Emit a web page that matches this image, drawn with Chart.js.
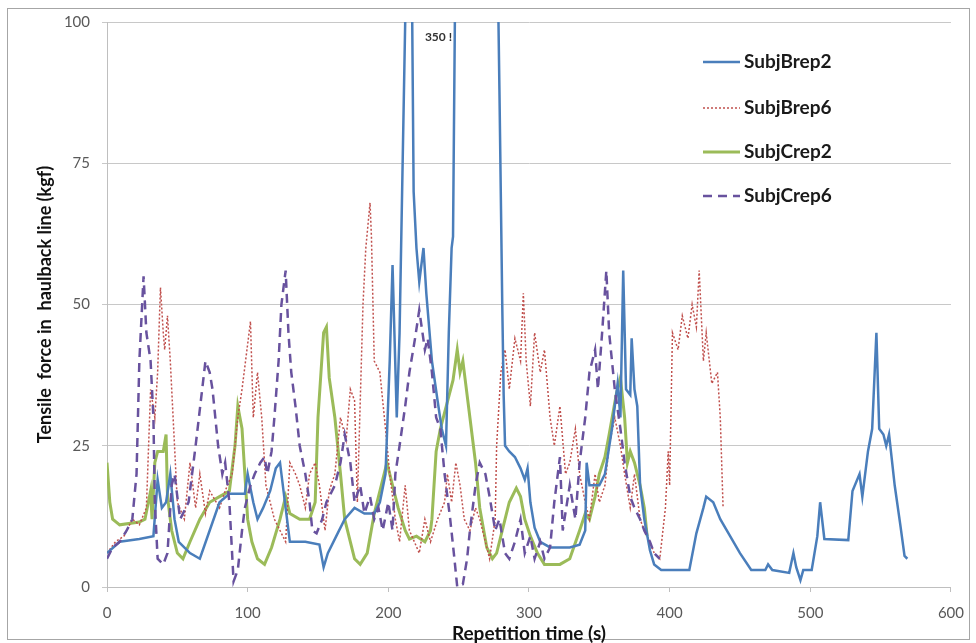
<!DOCTYPE html>
<html>
<head>
<meta charset="utf-8">
<title>Tensile force in haulback line</title>
<script src="https://cdn.jsdelivr.net/npm/chart.js@4.4.1/dist/chart.umd.min.js"></script>
<style>
    html, body { margin: 0; padding: 0; background: #fff; }
    .chart-box { position: relative; width: 976px; height: 643px; }
</style>
</head>
<body>
<div class="chart-box"><canvas id="forceChart"></canvas></div>
<script>
// series names and axis ticks
const seriesNames = ['SubjBrep2', 'SubjBrep6', 'SubjCrep2', 'SubjCrep6'];
const xTicks = [0, 100, 200, 300, 400, 500, 600];
const yTicks = [0, 25, 50, 75, 100];

// SubjBrep2 (time s, force kgf) - the spike at ~264 s reaches 350
const brep2Time = [0, 9, 23, 33, 36, 39, 42, 45, 48, 51, 59, 66, 73, 80, 87, 98, 100, 104, 107, 111, 116, 120, 123, 127, 130, 141, 151, 154, 157, 163, 169, 176, 183, 190, 194, 198, 201, 203, 206, 208, 212, 214, 217, 218, 220, 222, 225, 227, 231, 235, 238, 241, 243, 245, 246, 248, 264, 279, 281, 282, 283, 286, 290, 294, 297, 299, 301, 304, 308, 315, 329, 336, 340, 341, 343, 347, 350, 354, 359, 363, 365, 367, 369, 372, 373, 375, 377, 379, 382, 386, 389, 394, 414, 419, 424, 426, 431, 436, 443, 450, 458, 468, 470, 473, 485, 488, 490, 493, 495, 501, 505, 507, 510, 527, 530, 535, 537, 541, 544, 547, 549, 552, 554, 556, 560, 564, 567, 569];
const brep2Force = [6, 8, 8.5, 9, 19, 14, 15, 20, 12, 8, 6, 5, 10, 15, 16.5, 16.5, 20, 15, 12, 14, 17, 21, 22, 14, 8, 8, 7.5, 3.5, 6, 9, 12, 14, 13, 13, 15, 20, 40, 57, 30, 45, 100, 140, 100, 70, 60, 54, 60, 52, 40, 33, 28, 25, 45, 60, 62, 120, 350, 88, 50, 34, 25, 24, 23, 21, 19, 21, 15, 10.5, 8, 7, 7, 7.5, 10, 22, 18, 18, 18, 20, 28, 36, 30, 56, 35, 34, 44, 35, 32, 18, 12, 6.5, 4, 3, 3, 9.5, 14, 16, 15, 12, 9, 6, 3, 3, 4, 3, 2.5, 6, 3.5, 1.2, 3, 3, 9, 15, 8.5, 8.3, 17, 20, 16, 24, 28, 45, 28, 27, 25, 27, 18, 11, 5.5, 5];

// SubjBrep6
const brep6Time = [0, 6, 12, 18, 23, 28, 31, 34, 36, 38, 40, 41, 43, 45, 48, 50, 55, 59, 63, 66, 70, 73, 80, 84, 89, 93, 96, 100, 102, 104, 107, 110, 113, 116, 119, 123, 127, 130, 134, 137, 141, 144, 148, 151, 155, 158, 162, 166, 170, 173, 176, 178, 182, 184, 187, 188, 190, 194, 198, 201, 205, 208, 212, 215, 222, 226, 230, 235, 240, 242, 245, 248, 251, 254, 258, 262, 265, 269, 272, 276, 277, 280, 283, 286, 290, 294, 296, 298, 301, 304, 308, 311, 315, 318, 322, 326, 329, 333, 336, 340, 343, 347, 350, 354, 357, 361, 365, 368, 372, 375, 379, 382, 386, 389, 393, 397, 399, 400, 402, 406, 409, 413, 416, 419, 421, 424, 426, 430, 434, 436, 438];
const brep6Force = [6, 8, 9, 12, 11, 14, 35, 30, 38, 53, 45, 42, 48, 40, 25, 15, 12, 22, 14, 20, 13, 17, 14, 17, 20, 30, 35, 43, 47, 30, 38, 30, 18, 15, 12, 10, 8, 22, 20, 18, 14, 20, 22, 18, 10, 17, 20, 30, 26, 35, 33, 15, 50, 60, 68, 62, 40, 38, 28, 20, 12, 8, 18, 10, 6, 12, 8, 12, 15, 20, 15, 22, 18, 12, 10, 14, 12, 8, 5, 12, 25, 38, 42, 35, 44, 40, 52, 40, 32, 45, 38, 42, 30, 25, 32, 20, 22, 28, 20, 15, 12, 20, 15, 18, 25, 30, 25, 20, 14, 20, 12, 10, 8, 6, 5, 14, 24, 18, 45, 42, 48, 44, 50, 46, 56, 40, 45, 36, 38, 30, 14];

// SubjCrep2
const crep2Time = [0, 2, 4, 9, 23, 27, 31, 32, 34, 36, 40, 42, 43, 46, 50, 54, 59, 66, 73, 80, 87, 91, 93, 96, 98, 100, 103, 107, 112, 117, 123, 127, 130, 137, 144, 148, 150, 154, 156, 158, 162, 166, 169, 173, 176, 180, 185, 190, 195, 199, 203, 207, 212, 215, 220, 226, 230, 231, 234, 237, 246, 249, 251, 253, 255, 258, 262, 265, 270, 274, 277, 283, 286, 291, 294, 297, 301, 306, 311, 322, 329, 336, 340, 343, 347, 350, 354, 357, 362, 365, 368, 370, 372, 375, 379, 382, 384];
const crep2Force = [22, 15, 12, 11, 11.5, 12, 17, 12, 22, 24, 24, 27, 16, 10, 6, 5, 8, 12, 15, 16, 17, 25, 32, 28, 20, 12, 8, 5, 4, 7, 12, 16, 13, 12, 12, 15, 30, 45, 46, 37, 30, 20, 12, 8, 5, 4, 6, 13, 18, 22, 18, 14, 10, 8.5, 9, 8, 10, 12, 24, 28, 36.6, 42, 38, 40, 36, 30, 22, 14, 7, 5, 6, 12, 15, 17.5, 16, 12, 9, 6, 4, 4, 5, 10, 13, 12, 16, 20, 23, 27, 34, 37, 30, 22, 24, 22, 18, 14, 9];

// SubjCrep6
const crep6Time = [0, 4, 9, 14, 18, 21, 23, 26, 28, 31, 33, 34, 36, 40, 43, 46, 48, 52, 58, 63, 70, 73, 75, 79, 82, 84, 87, 90, 93, 96, 98, 102, 105, 109, 112, 114, 117, 119, 122, 124, 127, 129, 131, 134, 137, 141, 144, 146, 149, 153, 156, 162, 166, 169, 173, 176, 180, 183, 187, 190, 193, 196, 200, 203, 205, 208, 212, 215, 219, 222, 226, 228, 231, 234, 237, 240, 244, 247, 249, 253, 256, 258, 262, 265, 269, 272, 276, 279, 283, 286, 290, 294, 297, 301, 304, 308, 311, 315, 318, 322, 324, 329, 333, 336, 340, 343, 347, 349, 352, 355, 357, 361, 365, 368, 372, 375, 379, 382, 386, 389, 393];
const crep6Force = [5, 7, 8, 10, 12, 20, 40, 55, 45, 40, 30, 15, 5, 4, 6, 18, 20, 12, 15, 25, 40, 38, 35, 25, 20, 22, 15, 1, 3, 10, 14, 18, 20, 22, 23, 20, 24, 30, 40, 50, 56, 45, 38, 32, 25, 20, 15, 10, 9.5, 12, 15, 18, 22, 27, 22, 15, 18, 13, 16, 12, 14, 10, 15, 10, 20, 25, 32, 38, 44, 49, 42, 44, 38, 30, 28, 20, 12, 5, 0, 0.5, 5, 10, 18, 22, 20, 16, 10, 12, 6, 5, 8, 12, 6, 9, 5, 8, 5, 7, 15, 23, 10, 18, 12, 22, 30, 38, 42, 35, 45, 56, 45, 35, 28, 22, 16, 14, 12, 10, 8, 6, 5];

const seriesColors = ['rgb(74, 126, 187)', 'rgb(192, 80, 77)', 'rgb(155, 187, 89)', 'rgb(104, 82, 158)'];
const seriesDashes = [[], [2, 2], [], [9, 6]];
const seriesWidths = [2.5, 1.5, 3, 2.5];

function toPoints(times, values) {
    return times.map((t, i) => ({ x: t, y: values[i] }));
}

const seriesData = [
    toPoints(brep2Time, brep2Force),
    toPoints(brep6Time, brep6Force),
    toPoints(crep2Time, crep2Force),
    toPoints(crep6Time, crep6Force)
];

// draw order: Crep6 under the solid lines like the original
const drawOrder = [1, 2, 3, 0];

const frame = {
    id: 'frame',
    beforeDraw(chart) {
        const ctx = chart.ctx;
        ctx.save();
        ctx.fillStyle = '#fff';
        ctx.fillRect(0, 0, chart.width, chart.height);
        ctx.strokeStyle = '#a6a6a6';
        ctx.lineWidth = 1;
        ctx.strokeRect(7.5, 8.5, chart.width - 14, chart.height - 12);
        ctx.restore();
    }
};

const insideLegend = {
    id: 'insideLegend',
    afterDraw(chart) {
        const ctx = chart.ctx;
        const rows = [62, 108, 152, 196];
        ctx.save();
        chart.data.datasets.forEach((ds, i) => {
            const y = rows[i];
            ctx.beginPath();
            ctx.setLineDash(ds.borderDash);
            ctx.lineWidth = ds.borderWidth;
            ctx.strokeStyle = ds.borderColor;
            ctx.moveTo(703, y);
            ctx.lineTo(740, y);
            ctx.stroke();
            ctx.setLineDash([]);
            ctx.fillStyle = '#1a1a1a';
            ctx.font = 'bold 19px Lato';
            ctx.textBaseline = 'middle';
            ctx.textAlign = 'left';
            ctx.fillText(ds.label, 744, y);
        });
        // note for the clipped peak
        const xs = chart.scales.x, ys = chart.scales.y;
        ctx.fillStyle = '#333';
        ctx.font = 'bold 12px Lato';
        ctx.fillText('350 !', xs.getPixelForValue(226), ys.getPixelForValue(97.3));
        ctx.restore();
    }
};

new Chart(document.getElementById('forceChart'), {
    type: 'line',
    data: {
        datasets: seriesNames.map((name, i) => ({
            label: name,
            data: seriesData[i],
            borderColor: seriesColors[i],
            backgroundColor: seriesColors[i],
            borderDash: seriesDashes[i],
            borderWidth: seriesWidths[i],
            pointRadius: 0,
            tension: 0,
            order: drawOrder[i]
        }))
    },
    options: {
        responsive: true,
        maintainAspectRatio: false,
        animation: false,
        layout: { padding: { top: 22, right: 25, left: 0, bottom: 0 } },
        plugins: {
            legend: { display: false },
            tooltip: { enabled: false }
        },
        scales: {
            x: {
                type: 'linear',
                min: 0,
                max: 600,
                afterBuildTicks: s => { s.ticks = xTicks.map(v => ({ value: v })); },
                afterFit: s => { s.height = 56; },
                grid: { drawOnChartArea: false, tickLength: 5, color: '#bfbfbf' },
                border: { color: '#bfbfbf' },
                ticks: { padding: 12, color: '#595959', font: { family: 'Lato', size: 15 } },
                title: {
                    display: true,
                    text: 'Repetition time (s)',
                    color: '#111',
                    padding: { top: 0, bottom: -2 },
                    font: { family: 'Lato', size: 19, weight: 'bold' }
                }
            },
            y: {
                min: 0,
                max: 100,
                afterBuildTicks: s => { s.ticks = yTicks.map(v => ({ value: v })); },
                afterFit: s => { s.width = 107; },
                grid: { tickLength: 5, color: '#c8c8c8' },
                border: { color: '#bfbfbf' },
                ticks: { padding: 12, color: '#595959', font: { family: 'Lato', size: 15 } },
                title: {
                    display: true,
                    text: 'Tensile  force in  haulback line (kgf)',
                    color: '#111',
                    padding: { top: 34, bottom: 0 },
                    font: { family: 'Lato', size: 18, weight: 'bold' }
                }
            }
        }
    },
    plugins: [frame, insideLegend]
});
</script>
</body>
</html>
